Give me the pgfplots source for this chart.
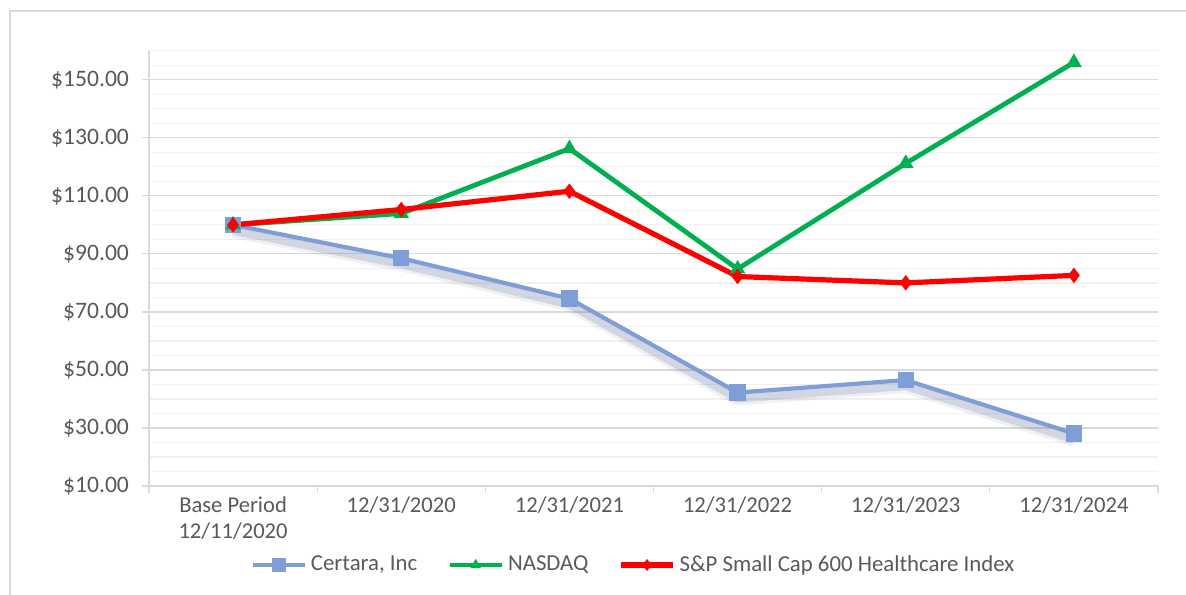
\documentclass[border=0pt]{standalone}
\usepackage{pgfplots}
\pgfplotsset{compat=1.18}
\usepackage{pgfplotstable}
\usepackage{fontspec}
\setmainfont{Carlito}
\definecolor{certara}{HTML}{7F9ED8}
\definecolor{nasdaq}{HTML}{00B050}
\definecolor{sp}{HTML}{FF0000}
\definecolor{txt}{HTML}{595959}
\definecolor{majg}{HTML}{D9D9D9}
\definecolor{ming}{HTML}{F0F0F0}
\definecolor{shadow}{HTML}{7888A8}
\pgfplotstableread{
x certara nasdaq sp
0 100.0 100.0 100.0
1 88.5 103.9 105.3
2 74.6 126.3 111.6
3 42.2 84.8 82.2
4 46.5 121.2 80.0
5 28.1 156.0 82.6
}\data
\begin{document}
\begin{tikzpicture}[x=1pt,y=1pt]
\useasboundingbox (-74.5pt,-54pt) rectangle (518.5pt,243pt);
\draw[color=majg, line width=0.6pt] (-69.5pt,-60pt) -- (-69.5pt,237.5pt) -- (530pt,237.5pt);
\begin{axis}[
  at={(0pt,0pt)}, anchor=south west,
  scale only axis, width=504.5pt, height=217.6pt,
  xmin=-0.5, xmax=5.5, ymin=10, ymax=160,
  axis lines=left, axis line style={-, draw=majg, line width=0.6pt},
  xtick={-0.5,0.5,...,5.5}, xticklabels={},
  extra x ticks={0,1,2,3,4,5},
  extra x tick labels={{Base Period\\12/11/2020},{12/31/2020},{12/31/2021},{12/31/2022},{12/31/2023},{12/31/2024}},
  extra x tick style={major tick length=0pt, grid=none},
  xticklabel style={align=center, font=\fontsize{11.3}{13}\selectfont, text=txt, yshift=-2pt},
  ytick={10,30,...,150},
  minor ytick={15,20,...,160},
  yticklabel={\$\pgfmathprintnumber[fixed,fixed zerofill,precision=2]{\tick}},
  yticklabel style={font=\fontsize{11.8}{13}\selectfont, text=txt, xshift=-3pt},
  /pgf/number format/assume math mode=true,
  tick align=outside, major tick length=3.5pt, minor tick length=0pt,
  tick style={draw=majg, line width=0.6pt},
  ymajorgrids=true, yminorgrids=true, xmajorgrids=false,
  major grid style={draw=majg, line width=0.6pt},
  minor grid style={draw=ming, line width=0.6pt},
  legend style={at={(242.75pt,-39.5pt)}, anchor=center, draw=none, fill=none,
    font=\fontsize{11.4}{13}\selectfont, text=txt, legend columns=3,
    /tikz/every even column/.append style={column sep=13pt}},
  legend image code/.code={\draw[mark repeat=2,mark phase=2,mark size=2.6pt] plot coordinates {(0pt,0pt) (13pt,0pt) (26pt,0pt)};},
  clip=false,
]
\addplot[forget plot, draw=shadow, opacity=0.12, line width=7pt, line join=round, transform canvas={yshift=-3pt}] table[x=x,y=certara]{\data};
\addplot[forget plot, draw=shadow, opacity=0.25, line width=4pt, line join=round, transform canvas={yshift=-3pt}] table[x=x,y=certara]{\data};
\addplot[color=certara, line width=2.1pt, mark=square*, mark size=3pt, mark options={fill=certara, draw=certara}] table[x=x,y=certara]{\data};
\addlegendentry{Certara, Inc}
\addplot[color=nasdaq, line width=2.4pt, mark=triangle*, mark size=4pt, mark options={fill=nasdaq, draw=nasdaq, line width=0.5pt}] table[x=x,y=nasdaq]{\data};
\addlegendentry{NASDAQ}
\addplot[color=sp, line width=2.6pt, mark=diamond*, mark size=3.5pt, mark options={fill=sp, draw=sp, line width=0.5pt}] table[x=x,y=sp]{\data};
\addlegendentry{S\&P Small Cap 600 Healthcare Index}
\end{axis}
\end{tikzpicture}
\end{document}
